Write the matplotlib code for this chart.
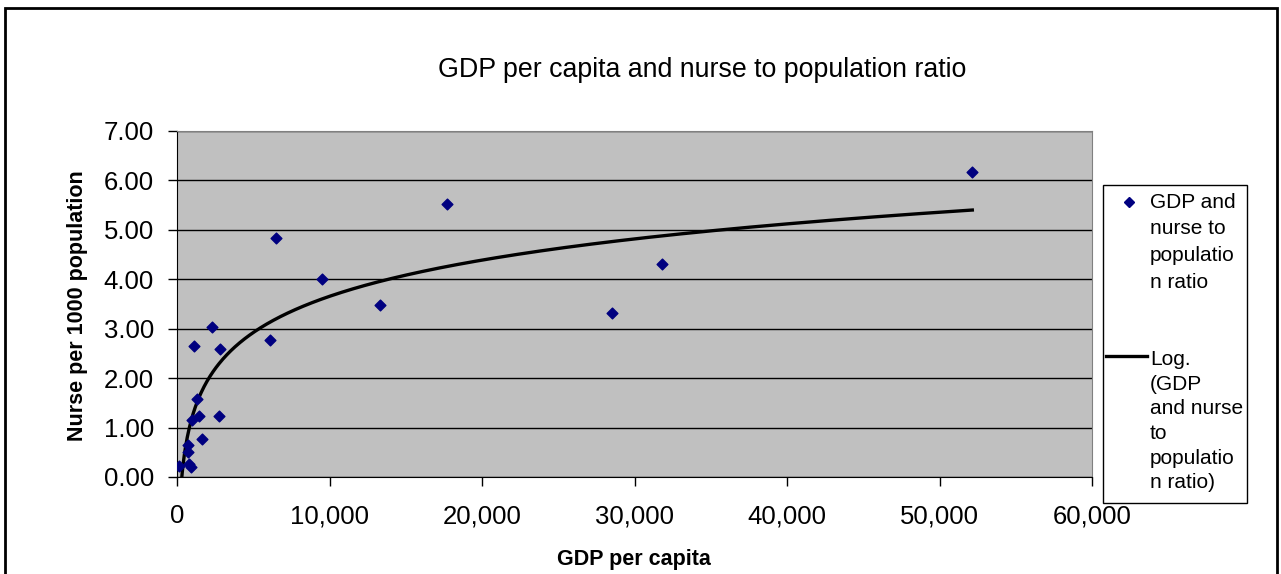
import numpy as np
import matplotlib.pyplot as plt
from matplotlib.patches import Rectangle
from matplotlib.lines import Line2D

plt.rcParams['font.family'] = ['Liberation Sans', 'DejaVu Sans']

# values
gdp = [2275, 1134, 2839, 6118, 1331, 964, 1443, 2754, 1659, 741, 741, 151, 807, 898,
       6511, 9528, 13331, 17725, 28544, 31823, 52151]
nurse = [3.04, 2.66, 2.58, 2.78, 1.58, 1.15, 1.23, 1.23, 0.76, 0.64, 0.50, 0.22, 0.26, 0.20,
         4.84, 4.01, 3.48, 5.52, 3.31, 4.31, 6.17]

scatter_label = 'GDP and\nnurse to\npopulatio\nn ratio'
trend_label = 'Log.\n(GDP\nand nurse\nto\npopulatio\nn ratio)'

gdp_arr = np.array(gdp, dtype=float)
nurse_arr = np.array(nurse)

# Excel style logarithmic trend line
a, b = np.polyfit(np.log(gdp_arr), nurse_arr, 1)
xs = np.linspace(gdp_arr.min(), gdp_arr.max(), 800)
ys = a * np.log(xs) + b

W, H = 1281, 574


def fx(px):
    return px / W


def fy(py):
    return 1 - py / H


fig = plt.figure(figsize=(W / 100, H / 100), dpi=100)
ax = fig.add_axes([fx(177), fy(477), (1092 - 177) / W, (477 - 131) / H])
ax.set_facecolor('#c0c0c0')

ax.plot(xs, ys, color='black', lw=2.4, zorder=3)
ax.scatter(gdp_arr, nurse_arr, marker='D', s=30, color='#000080', zorder=4)

ax.set_xlim(0, 60000)
ax.set_ylim(0, 7)
ax.set_yticks(np.arange(0, 8, 1))
ax.set_yticklabels(['%.2f' % v for v in np.arange(0, 8, 1)], fontsize=18.5)
ax.set_xticks(np.arange(0, 70000, 10000))
ax.set_xticklabels(['{:,}'.format(v) for v in range(0, 70000, 10000)], fontsize=18.5)
ax.tick_params(axis='both', direction='out', length=6.5, width=1, color='black')
ax.tick_params(axis='x', pad=13)
ax.tick_params(axis='y', pad=10)
ax.grid(axis='y', color='black', lw=1)
ax.set_axisbelow(True)
for s in ax.spines.values():
    s.set_color('#808080')
ax.spines['left'].set_color('black')
ax.spines['bottom'].set_color('black')

fig.text(fx(702), fy(70), 'GDP per capita and nurse to population ratio',
         ha='center', va='center', fontsize=19.3)
fig.text(fx(634), fy(549), 'GDP per capita', ha='center', va='top',
         fontsize=15.5, fontweight='bold')
fig.text(fx(78), fy(306), 'Nurse per 1000 population', ha='center', va='center',
         rotation=90, fontsize=15.5, fontweight='bold')

# legend drawn by hand so that each key sits beside the first line of its label
fig.patches.append(Rectangle((fx(1103), fy(503)), 144 / W, (503 - 185) / H,
                             transform=fig.transFigure, facecolor='white',
                             edgecolor='black', lw=1))
fig.lines.append(Line2D([fx(1129)], [fy(202)], marker='D', markersize=5.5,
                        color='#000080', ls='none', transform=fig.transFigure))
fig.lines.append(Line2D([fx(1106), fx(1147)], [fy(356), fy(356)], color='black',
                        lw=2.4, transform=fig.transFigure))
fig.text(fx(1150), fy(193), scatter_label, ha='left', va='top', fontsize=15,
         linespacing=1.5)
fig.text(fx(1150), fy(350), trend_label, ha='left', va='top', fontsize=15,
         linespacing=1.38)

# outer chart border, cut off at the bottom
fig.patches.append(Rectangle((fx(5), -0.05), 1272 / W, 1.05 - 8 / H,
                             transform=fig.transFigure, fill=False,
                             edgecolor='black', lw=2))

fig.savefig('out.png', dpi=100)
